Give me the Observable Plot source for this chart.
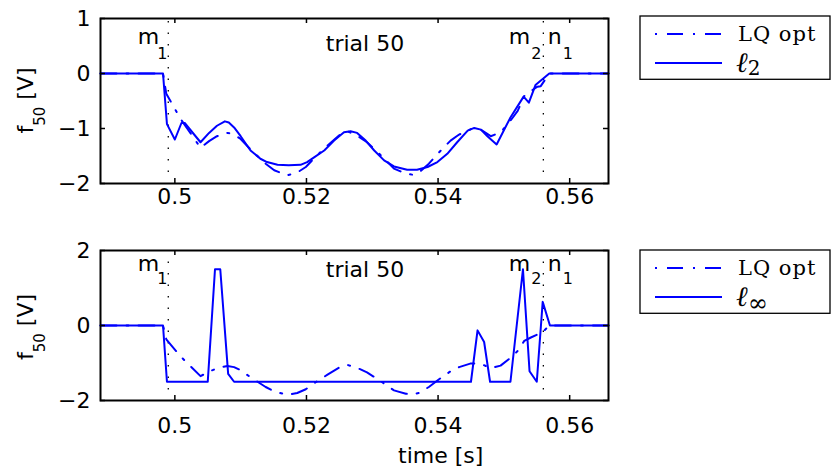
<!DOCTYPE html>
<html><head><meta charset="utf-8">
<script src="https://cdn.jsdelivr.net/npm/d3@7"></script>
<script src="https://cdn.jsdelivr.net/npm/@observablehq/plot@0.6"></script>
<style>
body{margin:0;background:#fff;}
#chart{position:relative;width:831px;height:474px;background:#fff;}
#chart svg{position:absolute;left:0;}
</style></head><body><div id="chart"></div>
<script>
// ---- data ----
const tLQ = [0.4887,0.4982,0.4987,0.5009,0.5039,0.5052,0.5064,0.5080,0.5090,0.5100,0.5115,0.5138,0.5151,0.5171,0.5186,0.5199,0.5216,0.5232,0.5249,0.5262,0.5277,0.5292,0.5308,0.5320,0.5333,0.5351,0.5361,0.5371,0.5386,0.5401,0.5419,0.5432,0.5450,0.5465,0.5480,0.5495,0.5508,0.5521,0.5531,0.5541,0.5551,0.5556,0.5569,0.5659];
const fLQ = [0,0,-0.37,-0.83,-1.35,-1.23,-1.14,-1.08,-1.11,-1.19,-1.38,-1.64,-1.76,-1.85,-1.80,-1.70,-1.49,-1.31,-1.13,-1.05,-1.13,-1.25,-1.43,-1.57,-1.73,-1.82,-1.84,-1.80,-1.64,-1.44,-1.22,-1.11,-1.01,-1.02,-1.14,-1.07,-0.89,-0.68,-0.41,-0.32,-0.24,-0.23,0,0];

const tL2 = [0.4887,0.4982,0.4988,0.5000,0.5010,0.5015,0.5039,0.5052,0.5064,0.5076,0.5082,0.5090,0.5100,0.5115,0.5130,0.5140,0.5156,0.5173,0.5191,0.5201,0.5211,0.5227,0.5242,0.5257,0.5267,0.5277,0.5290,0.5303,0.5318,0.5333,0.5353,0.5368,0.5384,0.5399,0.5414,0.5429,0.5445,0.5455,0.5465,0.5475,0.5489,0.5510,0.5530,0.5538,0.5548,0.5569,0.5659];
const fL2 = [0,0,-0.92,-1.20,-0.90,-0.90,-1.25,-1.08,-0.95,-0.87,-0.89,-0.98,-1.14,-1.40,-1.55,-1.61,-1.66,-1.67,-1.66,-1.61,-1.53,-1.40,-1.22,-1.07,-1.05,-1.08,-1.22,-1.40,-1.58,-1.69,-1.75,-1.75,-1.70,-1.61,-1.46,-1.25,-1.04,-0.99,-1.02,-1.14,-1.29,-0.80,-0.42,-0.53,-0.21,0,0];

const tLinf = [0.4887,0.4982,0.4988,0.5050,0.5061,0.5069,0.5081,0.5090,0.5450,0.5460,0.5470,0.5479,0.5510,0.5529,0.5539,0.5550,0.5559,0.5570,0.5659];
const fLinf = [0,0,-1.5,-1.5,1.5,1.5,-1.29,-1.5,-1.5,-0.13,-0.44,-1.5,-1.5,1.5,-1.22,-1.5,0.63,0,0];

const xDomain = [0.4887, 0.5659];
const xTicks = [0.5, 0.52, 0.54, 0.56];
const yTicksTop = [-2, -1, 0, 1];
const yTicksBottom = [-2, 0, 2];
const markerTimes = [0.499, 0.556];
const trialText = "trial 50";
const trialTime = 0.5289;
const markerLabels = [
  {main: "m", sub: "1", t: 0.499, dxMain: -9, anchorMain: "end", dxSub: -11},
  {main: "m", sub: "2", t: 0.556, dxMain: -34.7, anchorMain: "start", dxSub: -12.2},
  {main: "n", sub: "1", t: 0.556, dxMain: 4.3, anchorMain: "start", dxSub: 19.3}
];
const xLabel = "time [s]";
const xLabelTime = 0.5404;
const yLabelMain = "f", yLabelSub = "50", yLabelRest = " [V]";
const legendLQ = "LQ opt";
const legendTop = {base: "ℓ", sub: "2"};
const legendBottom = {base: "ℓ", sub: "∞"};

const zip = (t, f) => t.map((x, i) => ({t: x, f: f[i]}));
const BLUE = "#0000ff";
const DASHDOT = "16,10,2,10";
const W = 831, ML = 100, MR = 223;
const innerW = W - ML - MR;

function panel(o) {
  const innerH = o.height - o.mt - o.mb;
  const marks = [
    Plot.ruleX(markerTimes, {x: d => d, y1: o.ruleY[0], y2: o.ruleY[1], stroke: "black", strokeWidth: 1.3, strokeDasharray: "1.5,10"}),
    Plot.line(zip(tLQ, fLQ), {x: "t", y: "f", stroke: BLUE, strokeWidth: 2, strokeDasharray: DASHDOT}),
    Plot.line(o.solid, {x: "t", y: "f", stroke: BLUE, strokeWidth: 2}),
    Plot.frame({stroke: "black", strokeWidth: 2}),
    Plot.tickX(xTicks, {x: d => d, insetTop: innerH - 5, stroke: "black", strokeWidth: 1.5}),
    Plot.tickX(xTicks, {x: d => d, insetBottom: innerH - 5, stroke: "black", strokeWidth: 1.5}),
    Plot.tickY(o.yTicks, {y: d => d, insetRight: innerW - 5, stroke: "black", strokeWidth: 1.5}),
    Plot.tickY(o.yTicks, {y: d => d, insetLeft: innerW - 5, stroke: "black", strokeWidth: 1.5}),
    Plot.axisX(xTicks, {anchor: "bottom", tickSize: 0, tickPadding: o.xPad, label: null, tickFormat: d3.format("~g"), fill: "black", fontSize: 22}),
    Plot.axisY(o.yTicks, {anchor: "left", tickSize: 0, tickPadding: 10, label: null, tickFormat: d3.format("~g"), fill: "black", fontSize: 22}),
    Plot.text([trialText], {x: () => trialTime, text: d => d, frameAnchor: "top", lineAnchor: "bottom", dy: o.trialDy, fontSize: 22, fill: "black"})
  ];
  for (const m of markerLabels) {
    marks.push(Plot.text([m], {x: "t", text: "main", frameAnchor: "top", lineAnchor: "bottom", textAnchor: m.anchorMain, dx: m.dxMain, dy: o.mainDy, fontSize: 22, fill: "black"}));
    marks.push(Plot.text([m], {x: "t", text: "sub", frameAnchor: "top", lineAnchor: "bottom", textAnchor: "start", dx: m.dxSub, dy: o.subDy, fontSize: 16, fill: "black"}));
  }
  if (o.xlabel) {
    marks.push(Plot.text([xLabel], {x: () => xLabelTime, text: d => d, frameAnchor: "bottom", lineAnchor: "bottom", dy: o.xlabelDy, fontSize: 22, fill: "black"}));
  }
  const svg = Plot.plot({
    width: W, height: o.height,
    marginLeft: ML, marginRight: MR, marginTop: o.mt, marginBottom: o.mb,
    x: {domain: xDomain},
    y: {domain: o.yDomain},
    style: {fontFamily: "DejaVu Sans", fontSize: "22px", background: "transparent", overflow: "visible", color: "black"},
    marks
  });
  const s = d3.select(svg);
  // y label with subscript
  const yl = s.append("text")
    .attr("transform", `translate(33,${o.ylabelY}) rotate(-90)`)
    .attr("text-anchor", "middle").attr("font-family", "DejaVu Sans").attr("font-size", 22).attr("fill", "black");
  yl.append("tspan").text(yLabelMain);
  yl.append("tspan").attr("font-size", 15).attr("dy", 12).text(yLabelSub);
  yl.append("tspan").attr("dy", -12).text(yLabelRest);
  // legend
  const g = s.append("g").attr("text-anchor", "start");
  g.append("rect").attr("x", 640).attr("y", 16).attr("width", 190).attr("height", 63.3)
    .attr("fill", "white").attr("stroke", "black").attr("stroke-width", 1.3);
  g.append("line").attr("x1", 655).attr("x2", 722).attr("y1", 34).attr("y2", 34)
    .attr("stroke", BLUE).attr("stroke-width", 2).attr("stroke-dasharray", DASHDOT).attr("stroke-dashoffset", 26);
  g.append("line").attr("x1", 655).attr("x2", 722).attr("y1", 63).attr("y2", 63)
    .attr("stroke", BLUE).attr("stroke-width", 2);
  g.append("text").attr("text-anchor", "start").attr("x", 738).attr("y", 41).attr("font-family", "DejaVu Serif").attr("font-size", 21)
    .attr("letter-spacing", 1).attr("fill", "black").text(legendLQ);
  const t2 = g.append("text").attr("text-anchor", "start").attr("x", 736).attr("y", 71.5).attr("font-family", "DejaVu Serif").attr("fill", "black");
  t2.append("tspan").attr("font-size", 28).attr("font-style", "italic").text(o.legend.base);
  if (o.legend.sub === "∞") t2.append("tspan").attr("font-size", 24).attr("dy", 5).text(o.legend.sub);
  else t2.append("tspan").attr("font-size", 20).attr("dy", 3.5).text(o.legend.sub);
  svg.style.top = o.top + "px";
  return svg;
}

const chart = document.getElementById("chart");
chart.appendChild(panel({
  top: 0, height: 230, mt: 18, mb: 47, yDomain: [-2, 1], yTicks: yTicksTop,
  solid: zip(tL2, fL2), ruleY: [-1.8, 0.95], xPad: 5,
  trialDy: 32, mainDy: 25, subDy: 40, ylabelY: 100.5, legend: legendTop
}));
chart.appendChild(panel({
  top: 234, height: 240, mt: 16, mb: 74, yDomain: [-2, 2], yTicks: yTicksBottom,
  solid: zip(tLinf, fLinf), ruleY: [-1.72, 1.9], xPad: 17,
  trialDy: 26, mainDy: 20, subDy: 33.5, ylabelY: 93, legend: legendBottom,
  xlabel: true, xlabelDy: 62
}));
</script></body></html>
